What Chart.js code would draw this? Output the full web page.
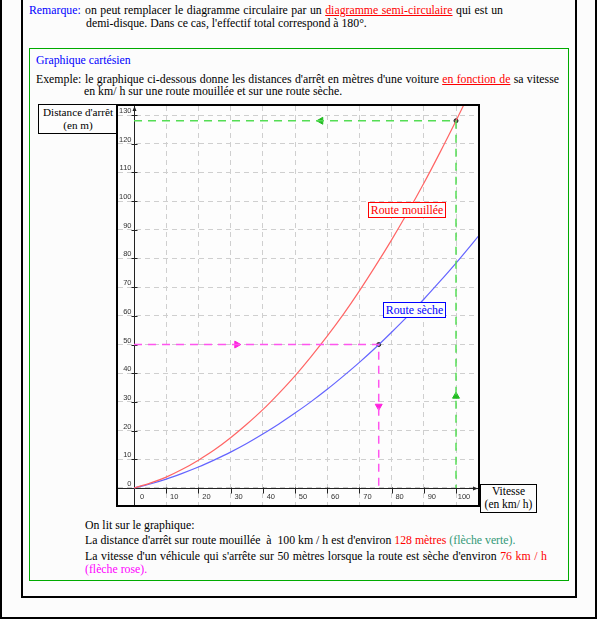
<!DOCTYPE html>
<html lang="fr">
<head>
<meta charset="utf-8">
<script src="https://cdn.jsdelivr.net/npm/chart.js@4.4.1/dist/chart.umd.min.js"></script>
<style>
  html, body { margin: 0; padding: 0; }
  body {
    width: 597px; height: 619px; position: relative; overflow: hidden;
    background: #fcfcfc; color: #000;
    font-family: "Liberation Serif", "Times New Roman", serif; font-size: 11.8px;
  }
  .box { position: absolute; box-sizing: border-box; }
  .line { position: absolute; white-space: nowrap; line-height: 14px; }
  .just { text-align: justify; text-align-last: justify; }
  .blue { color: #0000ff; }
  .red { color: #ff0000; }
  .u { text-decoration: underline; }
  .teal { color: #339977; }
  .pink { color: #ff00ff; }
  #frame { left: 116px; top: 104px; width: 364px; height: 403px; border: 2px solid #000; background: #fdfdfd; }
  #plot { position: relative; width: 360px; height: 399px; }
  .tag { position: absolute; box-sizing: border-box; text-align: center; background: #fdfdfd; white-space: nowrap; }
</style>
</head>
<body>
<div class="box" style="left:0;top:-20px;width:597px;height:639px;border:2px solid #000;"></div>
<div class="box" style="left:21px;top:-20px;width:556px;height:618px;border:2px solid #000;"></div>
<div class="box" style="left:29px;top:48px;width:540px;height:533px;border:1px solid #00aa00;"></div>

<div class="line blue" style="left:29px;top:3px;">Remarque:</div>
<div class="line just" style="left:85px;top:3px;width:418px;">on peut remplacer le diagramme circulaire par un <span class="red u">diagramme semi-circulaire</span> qui est un</div>
<div class="line" style="left:86px;top:16px;">demi-disque. Dans ce cas, l'effectif total correspond à 180°.</div>

<div class="line blue" style="left:36px;top:53px;">Graphique cartésien</div>
<div class="line" style="left:36px;top:72px;">Exemple:</div>
<div class="line just" style="left:85px;top:72px;width:474px;">le graphique ci-dessous donne les distances d'arrêt en mètres d'une voiture <span class="red u">en fonction de</span> sa vitesse</div>
<div class="line" style="left:84px;top:84px;">en km/ h sur une route mouillée et sur une route sèche.</div>

<div class="tag" style="left:38px;top:104px;width:80px;height:30px;border:1px solid #000;line-height:12.6px;padding-top:1px;font-size:11.2px;">Distance d'arrêt<br>(en m)</div>

<div id="frame" class="box"><div id="plot"><canvas id="stopChart"></canvas></div></div>

<div class="tag red" style="left:368px;top:202px;width:78px;height:16px;border:1px solid #ff0000;line-height:14px;">Route mouillée</div>
<div class="tag blue" style="left:383px;top:302px;width:63px;height:16px;border:1px solid #0000ff;line-height:14px;">Route sèche</div>

<div class="tag" style="left:480px;top:484px;width:57px;height:29px;border:1px solid #000;line-height:13px;font-size:11.5px;">Vitesse<br>(en km/ h)</div>

<div class="line" style="left:85px;top:518px;">On lit sur le graphique:</div>
<div class="line" style="left:85px;top:533px;">La distance d'arrêt sur route mouillée&nbsp; à&nbsp; 100 km / h est d'environ <span class="red">128 mètres</span> <span class="teal">(flèche verte).</span></div>
<div class="line just" style="left:85px;top:549px;width:462px;">La vitesse d'un véhicule qui s'arrête sur 50 mètres lorsque la route est sèche d'environ <span class="red">76 km / h</span></div>
<div class="line pink" style="left:85px;top:562px;">(flèche rose).</div>

<script>
// speeds in km/h, distances in m
const speeds = [0, 5, 10, 15, 20, 25, 30, 35, 40, 45, 50, 55, 60, 65, 70, 75, 80, 85, 90, 95, 100, 105, 110];
const wetRoad = [0, 1.7, 3.8, 6.5, 9.7, 13.3, 17.5, 22.2, 27.3, 33.0, 39.1, 45.8, 52.9, 60.5, 68.7, 77.4, 86.5, 96.1, 106.2, 116.9, 128, 139.6, 151.8];
const dryRoad = [0, 1.4, 3.1, 5.1, 7.3, 9.8, 12.5, 15.5, 18.8, 22.3, 26.1, 30.1, 34.4, 39.0, 43.8, 48.9, 54.3, 59.9, 65.8, 72.0, 78.4, 85.1, 92.0];

const xTicks = [0, 10, 20, 30, 40, 50, 60, 70, 80, 90, 100];
const yTicks = [0, 10, 20, 30, 40, 50, 60, 70, 80, 90, 100, 110, 120, 130];

// the two readings shown by the arrows
const wetReading = { speed: 100, dist: 128 };
const dryReading = { speed: 76, dist: 50 };

const GREEN = "#55dd55";
const PINK = "#ff55ee";

const toPoints = (xs, ys) => xs.map((v, i) => ({ x: v, y: ys[i] }));

// small plugin: axes through the origin, ticks, labels and arrow tips
const originAxes = {
  id: "originAxes",
  beforeDatasetsDraw(chart) {
    const { ctx, chartArea: a, scales: { x, y } } = chart;
    const x0 = Math.round(x.getPixelForValue(0)) + 0.5;
    const y0 = Math.round(y.getPixelForValue(0)) + 0.5;
    ctx.save();
    ctx.strokeStyle = "#222";
    ctx.fillStyle = "#222";
    ctx.lineWidth = 1;
    ctx.beginPath();
    ctx.moveTo(a.left, y0);
    ctx.lineTo(a.right, y0);
    ctx.moveTo(x0, a.bottom);
    ctx.lineTo(x0, a.top);
    xTicks.forEach((v) => {
      const px = Math.round(x.getPixelForValue(v)) + 0.5;
      ctx.moveTo(px, y0 - 1);
      ctx.lineTo(px, y0 + 5);
    });
    yTicks.forEach((v) => {
      const py = Math.round(y.getPixelForValue(v)) + 0.5;
      ctx.moveTo(x0 - 3, py);
      ctx.lineTo(x0 + 3, py);
    });
    ctx.stroke();

    // arrow tips
    ctx.beginPath();
    ctx.moveTo(x0, a.top);
    ctx.lineTo(x0 - 2, a.top + 5);
    ctx.lineTo(x0 + 2, a.top + 5);
    ctx.closePath();
    ctx.moveTo(a.right, y0);
    ctx.lineTo(a.right - 5, y0 - 2);
    ctx.lineTo(a.right - 5, y0 + 2);
    ctx.closePath();
    ctx.fill();

    ctx.fillStyle = "#333";
    ctx.font = '7.5px "Liberation Sans", Arial, sans-serif';
    ctx.textAlign = "right";
    ctx.textBaseline = "alphabetic";
    yTicks.forEach((v) => {
      ctx.fillText(String(v), x0 - 3, y.getPixelForValue(v) - 2);
    });
    ctx.textAlign = "center";
    xTicks.forEach((v) => {
      ctx.fillText(String(v), x.getPixelForValue(v) + 8, y0 + 10);
    });
    ctx.restore();
  },
};

const ctx = document.getElementById("stopChart").getContext("2d");
new Chart(ctx, {
  type: "scatter",
  data: {
    datasets: [
      {
        label: "guide vert",
        data: [
          { x: 0, y: wetReading.dist },
          { x: wetReading.speed, y: wetReading.dist },
          { x: wetReading.speed, y: 0 },
        ],
        showLine: true,
        borderColor: GREEN,
        borderWidth: 1.5,
        borderDash: [8, 6],
        pointRadius: 0,
      },
      {
        label: "guide rose",
        data: [
          { x: 0, y: dryReading.dist },
          { x: dryReading.speed, y: dryReading.dist },
          { x: dryReading.speed, y: 0 },
        ],
        showLine: true,
        borderColor: PINK,
        borderWidth: 1.5,
        borderDash: [8, 6],
        pointRadius: 0,
      },
      {
        label: "Route mouillée",
        data: toPoints(speeds, wetRoad),
        showLine: true,
        borderColor: "#ff6464",
        borderWidth: 1.2,
        pointRadius: 0,
        cubicInterpolationMode: "monotone",
      },
      {
        label: "Route sèche",
        data: toPoints(speeds, dryRoad),
        showLine: true,
        borderColor: "#6464ff",
        borderWidth: 1.2,
        pointRadius: 0,
        cubicInterpolationMode: "monotone",
      },
      {
        label: "flèches vertes",
        data: [
          { x: wetReading.speed * 0.58, y: wetReading.dist },
          { x: wetReading.speed, y: wetReading.dist * 0.25 },
        ],
        pointStyle: "triangle",
        rotation: [-90, 0],
        pointRadius: 4,
        backgroundColor: "#22bb22",
        borderColor: "#22bb22",
        borderWidth: 1,
      },
      {
        label: "flèches roses",
        data: [
          { x: dryReading.speed * 0.42, y: dryReading.dist },
          { x: dryReading.speed, y: dryReading.dist * 0.57 },
        ],
        pointStyle: "triangle",
        rotation: [90, 180],
        pointRadius: 4,
        backgroundColor: "#ff22dd",
        borderColor: "#ff22dd",
        borderWidth: 1,
      },
      {
        label: "lectures",
        data: [
          { x: wetReading.speed, y: wetReading.dist },
          { x: dryReading.speed, y: dryReading.dist },
        ],
        pointRadius: 2,
        backgroundColor: "#555",
        borderColor: "#222",
        borderWidth: 1,
      },
    ],
  },
  options: {
    responsive: true,
    maintainAspectRatio: false,
    animation: false,
    layout: { padding: 0, autoPadding: false },
    plugins: {
      legend: { display: false },
      tooltip: { enabled: false },
    },
    scales: {
      x: {
        type: "linear",
        min: -4.97,
        max: 106.83,
        ticks: { display: false, stepSize: 10, includeBounds: false },
        grid: { color: "#cfcfcf", lineWidth: 1, drawTicks: false },
        border: { display: false, dash: [5, 4] },
        afterFit: (s) => { s.height = 0; },
      },
      y: {
        type: "linear",
        min: -5.93,
        max: 133.15,
        ticks: { display: false, stepSize: 10, includeBounds: false },
        grid: { color: "#cfcfcf", lineWidth: 1, drawTicks: false },
        border: { display: false, dash: [5, 4] },
        afterFit: (s) => { s.width = 0; },
      },
    },
  },
  plugins: [originAxes],
});
</script>
</body>
</html>
